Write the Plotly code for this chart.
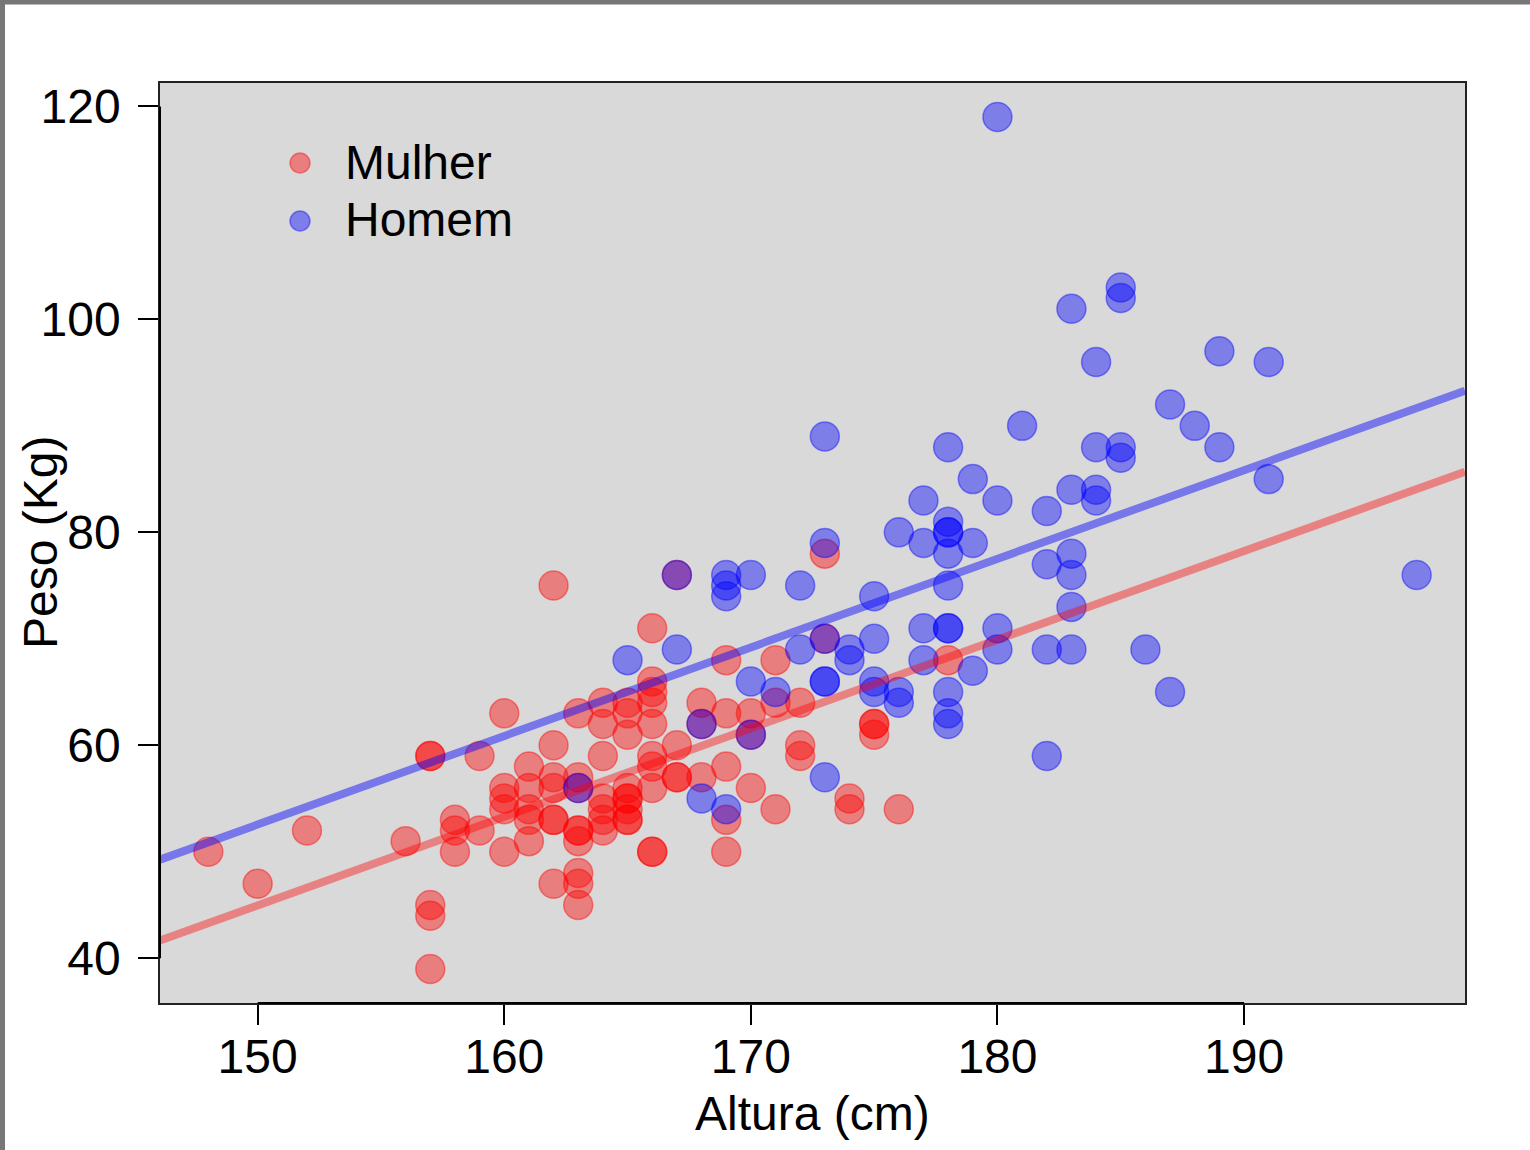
import numpy as np
import plotly.graph_objects as go

# ---- data ----
mulher_altura = [148, 150, 152, 156, 157, 157, 157, 157, 157, 158, 158, 158, 159, 159,
                 160, 160, 160, 160, 160, 161, 161, 161, 161, 161,
                 162, 162, 162, 162, 162, 162, 162,
                 163, 163, 163, 163, 163, 163, 163, 163, 163,
                 164, 164, 164, 164, 164, 164, 164,
                 165, 165, 165, 165, 165, 165, 165, 165, 165,
                 166, 166, 166, 166, 166, 166, 166, 166, 166, 166,
                 167, 167, 167, 167, 168, 168, 168,
                 169, 169, 169, 169, 169, 170, 170, 170, 171, 171, 171,
                 172, 172, 172, 173, 173, 174, 174, 175, 175, 175, 176, 178]
mulher_peso = [50, 47, 52, 51, 59, 59, 45, 44, 39, 53, 52, 50, 59, 52,
               63, 56, 55, 54, 50, 58, 56, 54, 53, 51,
               75, 60, 57, 56, 53, 53, 47,
               63, 57, 56, 52, 52, 51, 48, 47, 45,
               64, 62, 59, 55, 54, 53, 52,
               64, 63, 61, 56, 55, 55, 54, 53, 53,
               71, 66, 65, 64, 62, 59, 58, 56, 50, 50,
               76, 60, 57, 57, 64, 62, 57,
               68, 63, 58, 53, 50, 63, 61, 56, 68, 64, 54,
               64, 60, 59, 78, 70, 55, 54, 62, 62, 61, 54, 68]

homem_altura = [163, 165, 167, 167, 168, 168, 169, 169, 169, 169, 170, 170, 170, 171,
                172, 172, 173, 173, 173, 173, 173, 173, 174, 174, 175, 175, 175, 175,
                176, 176, 176, 177, 177, 177, 177,
                178, 178, 178, 178, 178, 178, 178, 178, 178, 178, 178,
                179, 179, 179, 180, 180, 180, 180, 181, 182, 182, 182, 182,
                183, 183, 183, 183, 183, 183, 184, 184, 184, 184,
                185, 185, 185, 185, 186, 187, 187, 188, 189, 189, 191, 191, 197]
homem_peso = [56, 68, 76, 69, 62, 55, 76, 75, 74, 54, 76, 66, 61, 65,
              75, 69, 89, 79, 70, 66, 66, 57, 69, 68, 74, 70, 66, 65,
              80, 65, 64, 83, 79, 71, 68,
              88, 81, 80, 80, 78, 75, 71, 71, 65, 63, 62,
              85, 79, 67, 119, 83, 71, 69, 90, 82, 77, 69, 59,
              101, 84, 78, 76, 73, 69, 96, 88, 84, 83,
              103, 102, 88, 87, 69, 92, 65, 90, 97, 88, 96, 85, 76]

# fitted lines (common slope)
slope = 0.832
intercept_mulher = -79.84
intercept_homem = -72.24

x_range = [146.04, 198.96]
y_range = [35.8, 122.2]
x_ticks = [150, 160, 170, 180, 190]
y_ticks = [40, 60, 80, 100, 120]

RED = "rgba(255,0,0,0.42)"
BLUE = "rgba(0,0,255,0.42)"
FONT = "Liberation Sans, Arial, sans-serif"

fig = go.Figure()
fig.add_trace(go.Scatter(x=mulher_altura, y=mulher_peso, mode="markers", name="Mulher",
                         marker=dict(size=29, color=RED, line=dict(color=RED, width=1.5)),
                         showlegend=False))
fig.add_trace(go.Scatter(x=homem_altura, y=homem_peso, mode="markers", name="Homem",
                         marker=dict(size=29, color=BLUE, line=dict(color=BLUE, width=1.5)),
                         showlegend=False))

xl = np.array(x_range)
fig.add_trace(go.Scatter(x=xl, y=intercept_homem + slope * xl, mode="lines",
                         line=dict(color="rgba(0,0,255,0.45)", width=8), showlegend=False))
fig.add_trace(go.Scatter(x=xl, y=intercept_mulher + slope * xl, mode="lines",
                         line=dict(color="rgba(255,0,0,0.4)", width=8), showlegend=False))

W, H = 1530, 1150
L, R, T, B = 160, 65, 83, 147
PW, PH = W - L - R, H - T - B


def px(xp):
    return (xp - L) / PW


def py(yp):
    return 1 - (yp - T) / PH


shapes = []
# outer grey frame (left and top)
shapes.append(dict(type="rect", xref="paper", yref="paper", x0=px(0), x1=px(5), y0=py(H), y1=py(0),
                   fillcolor="#777777", line=dict(width=0), layer="above"))
shapes.append(dict(type="rect", xref="paper", yref="paper", x0=px(0), x1=px(W), y0=py(4.5), y1=py(0),
                   fillcolor="#777777", line=dict(width=0), layer="above"))
# axis segments over tick range
shapes.append(dict(type="line", xref="x", yref="paper", x0=x_ticks[0], x1=x_ticks[-1], y0=0, y1=0,
                   line=dict(color="black", width=2), layer="above"))
shapes.append(dict(type="line", xref="paper", yref="y", x0=0, x1=0, y0=y_ticks[0], y1=y_ticks[-1],
                   line=dict(color="black", width=2), layer="above"))
# legend markers
for yy, col in [(163, RED), (221, BLUE)]:
    shapes.append(dict(type="circle", xref="paper", yref="paper", xsizemode="pixel", ysizemode="pixel",
                       xanchor=px(300), yanchor=py(yy), x0=-10, x1=10, y0=-10, y1=10,
                       fillcolor=col, line=dict(color=col, width=1.5)))

annotations = [
    dict(text="Mulher", x=px(343), y=py(162), xref="paper", yref="paper", xanchor="left", yanchor="middle",
         showarrow=False, font=dict(size=48, color="black", family=FONT)),
    dict(text="Homem", x=px(343), y=py(220), xref="paper", yref="paper", xanchor="left", yanchor="middle",
         showarrow=False, font=dict(size=48, color="black", family=FONT)),
    dict(text="Altura (cm)", x=px(812), y=py(1113), xref="paper", yref="paper", xanchor="center",
         yanchor="middle", showarrow=False, font=dict(size=48, color="black", family=FONT)),
    dict(text="Peso (Kg)", x=px(40), y=py(543), xref="paper", yref="paper", xanchor="center",
         yanchor="middle", textangle=-90, showarrow=False, font=dict(size=48, color="black", family=FONT)),
]

fig.update_layout(
    width=W, height=H,
    margin=dict(l=L, r=R, t=T, b=B, pad=0),
    paper_bgcolor="white", plot_bgcolor="#d9d9d9",
    font=dict(family=FONT, size=48, color="black"),
    shapes=shapes, annotations=annotations,
    xaxis=dict(range=x_range, tickvals=x_ticks, ticks="outside", ticklen=20, tickwidth=1.5,
               tickcolor="black", showgrid=False, zeroline=False, showline=True, mirror=True,
               linecolor="#222222", linewidth=1.5, ticklabelstandoff=-9,
               tickfont=dict(size=48, family=FONT, color="black")),
    yaxis=dict(range=y_range, tickvals=y_ticks, ticks="outside", ticklen=20, tickwidth=1.5,
               tickcolor="black", showgrid=False, zeroline=False, showline=True, mirror=True,
               linecolor="#222222", linewidth=1.5, ticklabelstandoff=8,
               tickfont=dict(size=48, family=FONT, color="black")),
)

fig.write_html("out.html", config={"displayModeBar": False},
               post_script="document.body.style.margin='0';document.body.style.padding='0';")
